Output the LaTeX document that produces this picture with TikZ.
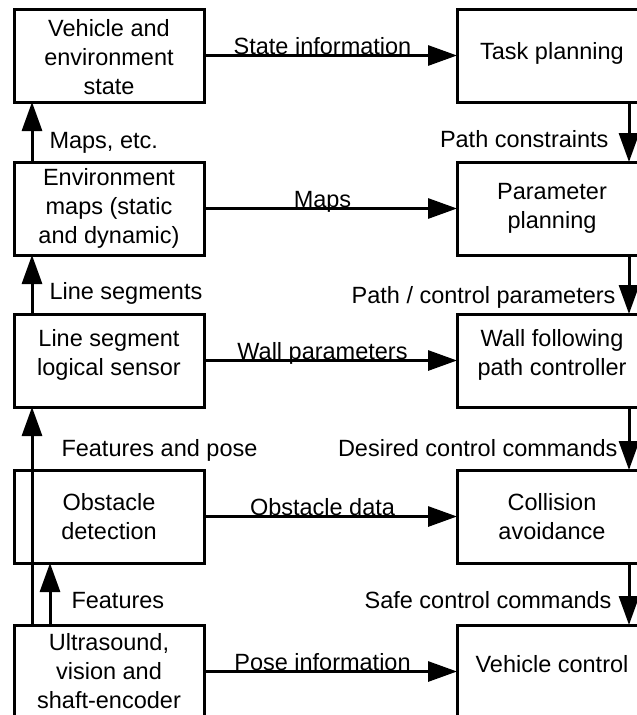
\documentclass[tikz,border=0pt]{standalone}
\usepackage{fontspec}
\setmainfont{Liberation Sans}
\usetikzlibrary{arrows.meta, positioning}

% extra depth below the last line, lifts the text in its box
\newcommand{\liftby}[1]{\rule[-#1]{0pt}{#1}}

\begin{document}
\begin{tikzpicture}[
  box/.style={rectangle, draw, line width=3pt, outer sep=0pt,
    minimum width=190pt, minimum height=93pt, inner sep=0pt,
    align=center, font=\fontsize{23.5}{29}\selectfont},
  arrow/.style={-{Triangle[length=29pt, width=20pt]}, line width=3pt},
  lbl/.style={font=\fontsize{23.5}{29}\selectfont, inner sep=0pt},
  hlbl/.style={lbl, midway, anchor=base, xshift=-8pt, yshift=1.5pt},
  uplbl/.style={lbl, anchor=base west},
  downlbl/.style={lbl, anchor=base east}
]
\useasboundingbox (0pt,0pt) rectangle (637pt,-715pt);
\clip (0pt,0pt) rectangle (637pt,-715pt);

% left column
\node[box, anchor=north west] (veh) at (14pt,-9pt)
  {\rule{0pt}{20pt}Vehicle and\\environment\\state};
\node[box, below=60pt of veh] (env) {Environment\\maps (static\\and dynamic)};
\node[box, below=59pt of env] (seg) {Line segment\\logical sensor\liftby{17pt}};
\node[box, below=63pt of seg] (obs) {Obstacle\\detection};
\node[box, below=62pt of obs] (sens) {Ultrasound,\\vision and\\shaft-encoder};

% right column
\node[box, right=253pt of veh]  (task)  {Task planning\liftby{10pt}};
\node[box, right=253pt of env]  (param) {Parameter\\planning};
\node[box, right=253pt of seg]  (wall)  {Wall following\\path controller\liftby{17pt}};
\node[box, right=253pt of obs]  (coll)  {Collision\\avoidance};
\node[box, right=253pt of sens] (ctrl)  {Vehicle control\liftby{16pt}};

% across
\draw[arrow] (veh)  -- node[hlbl]{State information} (task);
\draw[arrow] (env)  -- node[hlbl]{Maps} (param);
\draw[arrow] (seg)  -- node[hlbl]{Wall parameters} (wall);
\draw[arrow] (obs)  -- node[hlbl]{Obstacle data} (coll);
\draw[arrow] (sens) -- node[hlbl]{Pose information} (ctrl);

% up the left side
\draw[arrow] ([xshift=18pt]env.north west) --
  node[uplbl, pos=0.23, xshift=16pt]{Maps, etc.} ([xshift=18pt]veh.south west);
\draw[arrow] ([xshift=18pt]seg.north west) --
  node[uplbl, pos=0.25, xshift=16pt]{Line segments} ([xshift=18pt]env.south west);
\draw[arrow] ([xshift=18pt]sens.north west) --
  node[uplbl, pos=0.774, xshift=28pt]{Features and pose} ([xshift=18pt]seg.south west);
\draw[arrow] ([xshift=36pt]sens.north west) --
  node[uplbl, pos=0.26, xshift=20pt]{Features} ([xshift=36pt]obs.south west);

% down the right side
\draw[arrow] ([xshift=-18pt]task.south east) --
  node[downlbl, pos=0.75, xshift=-19pt]{Path constraints} ([xshift=-18pt]param.north east);
\draw[arrow] ([xshift=-18pt]param.south east) --
  node[downlbl, pos=0.83, xshift=-12pt]{Path / control parameters} ([xshift=-18pt]wall.north east);
\draw[arrow] ([xshift=-18pt]wall.south east) --
  node[downlbl, pos=0.78, xshift=-10pt]{Desired control commands} ([xshift=-18pt]coll.north east);
\draw[arrow] ([xshift=-18pt]coll.south east) --
  node[downlbl, pos=0.74, xshift=-16pt]{Safe control commands} ([xshift=-18pt]ctrl.north east);
\end{tikzpicture}
\end{document}
